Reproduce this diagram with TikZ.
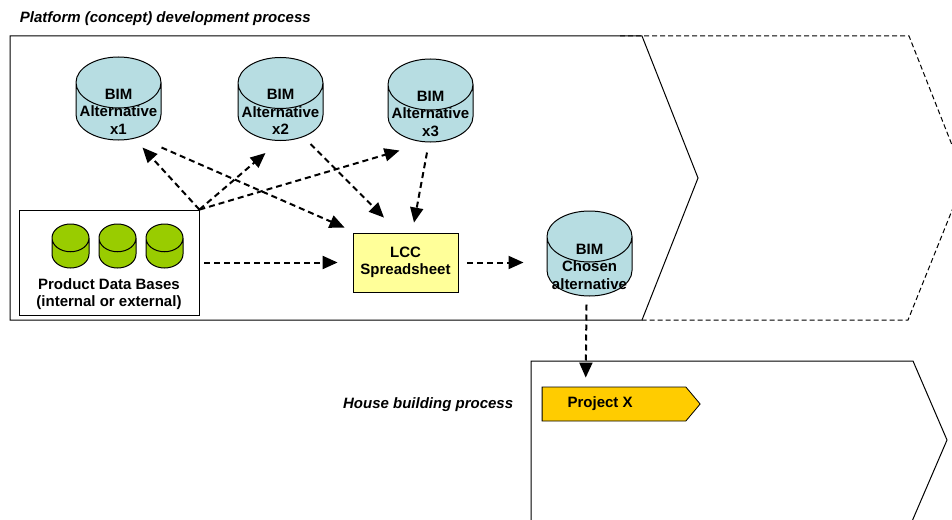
\documentclass[tikz,border=0pt]{standalone}
\usepackage{fontspec}
\setmainfont{Liberation Sans}
\usetikzlibrary{calc,positioning,shapes.geometric,shapes.symbols,arrows.meta}
\definecolor{bimblue}{RGB}{183,221,226}
\definecolor{dbgreen}{RGB}{153,204,0}
\definecolor{lccyellow}{RGB}{255,255,153}
\definecolor{projorange}{RGB}{255,204,0}
\tikzset{
    boldtext/.style={align=center, font=\fontsize{15}{17.5}\selectfont\bfseries},
    caption/.style={font=\fontsize{15}{18}\selectfont\bfseries\itshape},
    bimcyl/.style={cylinder, shape border rotate=90, aspect=0.6, draw, fill=bimblue, minimum height=83pt, inner sep=0pt,
        text width=85pt, anchor=shape center},
    dbcyl/.style={cylinder, shape border rotate=90, aspect=0.75, draw, fill=dbgreen, minimum height=44pt, inner sep=0pt,
        text width=37pt, anchor=shape center},
    flow/.style={line width=2pt, dash pattern=on 6pt off 4pt, -{Triangle[length=15pt,width=13pt]}},
    node distance=47pt
}
\newcommand{\BIMalt}[1]{BIM\\Alternative\\#1}

\begin{document}
\begin{tikzpicture}[x=1pt,y=-1pt,line width=1pt,on grid]
  \clip (0,0) rectangle (952,519);
  \node[caption, anchor=west] (ptitle) at (16,19) {Platform (concept) development process};

  % platform frame, the next step dashed
  \draw[dash pattern=on 5pt off 3pt] (620,36) -- (909,36) -- (965,178) -- (908,320) -- (642,320);
  \draw (10,36) -- (642,36) -- (698,178) -- (642,320) -- (10,320) -- cycle;

  \node[bimcyl, label={[boldtext]center:{\BIMalt{x1}}}] (x1) at (118.5,98.5) {};
  \node[bimcyl, label={[boldtext]center:{\BIMalt{x2}}}] (x2) at (280.5,99) {};
  \node[bimcyl, label={[boldtext]center:{\BIMalt{x3}}}] (x3) at (430.5,100.5) {};

  \node[draw, line width=0.8pt, minimum width=180pt, minimum height=105pt] (pdb) at (109,262.5) {};
  \node[dbcyl] (db1) at (70.5,246) {};
  \node[dbcyl, right = of db1] (db2) {};
  \node[dbcyl, right = of db2] (db3) {};
  \node[boldtext] (pdbtext) at (109,294) {Product Data Bases\\(internal or external)};

  \node[boldtext, draw, line width=0.8pt, fill=lccyellow, minimum width=105pt, minimum height=59pt] (lcc) at (405.5,262.5) {LCC\\Spreadsheet};
  \node[bimcyl, minimum height=85pt, label={[boldtext]center:{BIM\\Chosen\\alternative}}] (chosen) at (589.5,253.5) {};

  % house building
  \draw (531,530) -- (531,361) -- (913,361) -- (947,440) -- (910,526);
  \node[caption, anchor=east] (htitle) at (517,405) {House building process};
  \node[signal, signal to=east, signal pointer angle=100, draw, line width=0.8pt, fill=projorange, minimum width=158pt, minimum height=34pt, inner sep=0pt,
        label={[boldtext, anchor=west, xshift=22pt]west:Project X}] (projx) at (614,404) {};

  \draw[flow] (pdb.north east) -- ($(x1.south)+(24,7)$);
  \draw[flow] (pdb.north east) -- ($(x2.south)+(-15,12)$);
  \draw[flow] (pdb.north east) -- ($(x3.south)+(-31,8)$);
  \draw[flow] ($(x1.south)+(43,7)$) -- ($(lcc.north west)+(-8,-5)$);
  \draw[flow] ($(x2.south)+(30,3)$) -- ($(lcc.north)+(-21.5,-15)$);
  \draw[flow] ($(x3.south)+(-3.5,10)$) -- ($(lcc.north)+(8.5,-10)$);
  \draw[flow, shorten <=5pt, shorten >=15pt] (pdb) -- (lcc);
  \draw[flow, shorten <=9pt, shorten >=23pt] (lcc.east) -- (lcc.east -| chosen.west);
  \draw[flow] ($(chosen.south)+(-3,8)$) -- ($(projx.north west)+(44,-9)$);
\end{tikzpicture}
\end{document}
